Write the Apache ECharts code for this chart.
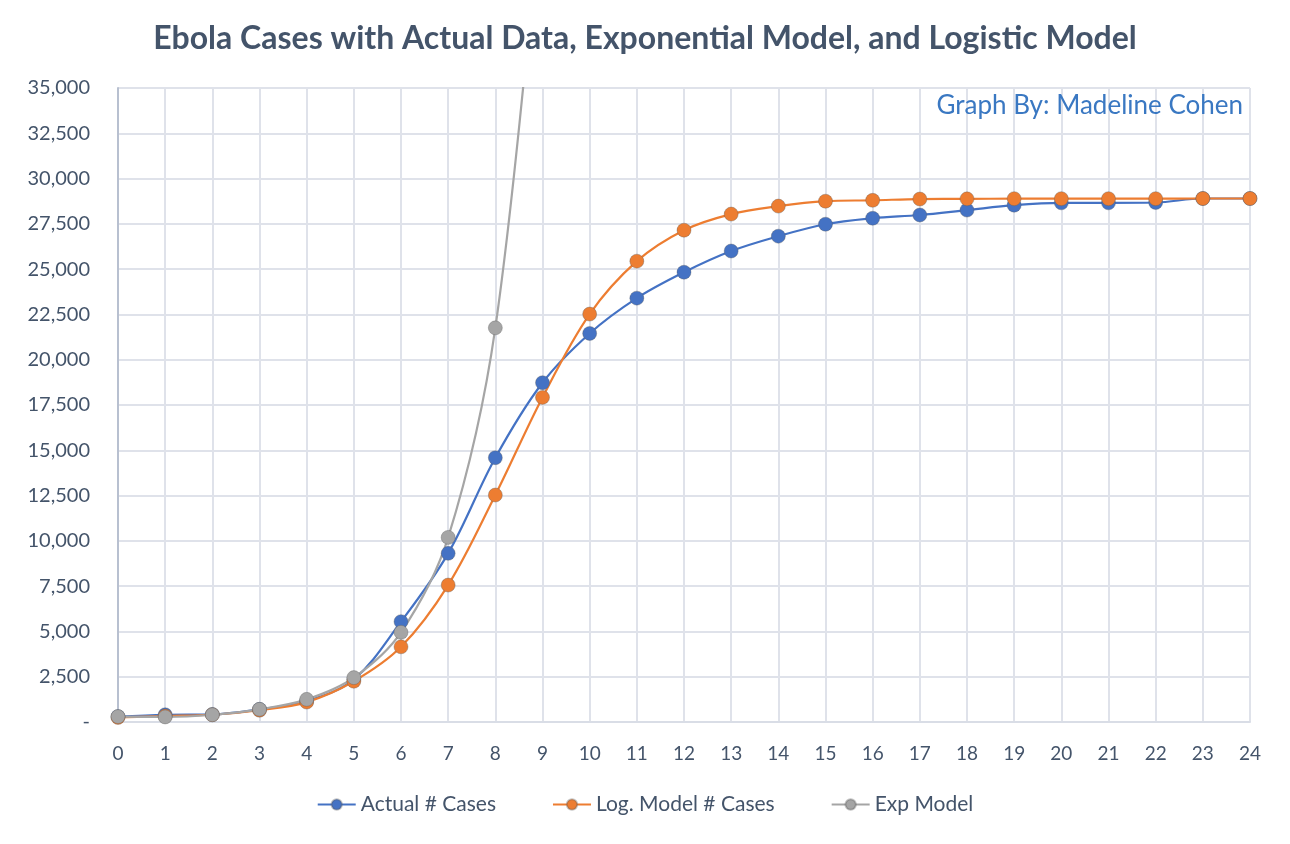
<!DOCTYPE html>
<html>
<head>
<meta charset="utf-8">
<script src="https://cdn.jsdelivr.net/npm/echarts@6/dist/echarts.min.js"></script>
<style>html,body{margin:0;padding:0;background:#fff}#c{width:1290px;height:844px}</style>
</head>
<body>
<div id="c"></div>
<script>
const weeks = [0,1,2,3,4,5,6,7,8,9,10,11,12,13,14,15,16,17,18,19,20,21,22,23,24];
const actualCases = [300,400,420,700,1150,2350,5540,9310,14590,18730,21450,23400,24830,26000,26820,27480,27810,27990,28260,28530,28660,28660,28680,28900,28900];
const logModelCases = [250,330,400,650,1100,2250,4150,7560,12530,17920,22520,25440,27150,28040,28480,28750,28800,28870,28880,28890,28890,28890,28890,28900,28900];
const expModel = [300,280,400,700,1250,2450,4950,10190,21760,46500];
const seriesNames = ['Actual # Cases','Log. Model # Cases','Exp Model'];
const colors = ['#4472c4','#ed7d31','#a5a5a5'];

function pairs(vals){ return vals.map((v,i)=>[weeks[i],v]); }
function fmt(v){ if(v===0) return '-'; return String(v).replace(/\B(?=(\d{3})+(?!\d))/g, ','); }

const chart = echarts.init(document.getElementById('c'), null, {renderer:'canvas'});
const font = 'Lato, "Open Sans", sans-serif';
function mk(name, vals, color){
  return {
    name, type:'line', data:pairs(vals), smooth:0.35, clip:true,
    symbol:'circle', symbolSize:14,
    lineStyle:{color, width:2.2},
    itemStyle:{color, borderColor:'rgba(90,90,90,0.35)', borderWidth:1},
    emphasis:{disabled:true}
  };
}
chart.setOption({
  animation:false,
  backgroundColor:'#fff',
  title:[{
    text:'Ebola Cases with Actual Data, Exponential Model, and Logistic Model',
    left:'center', top:18,
    textStyle:{fontFamily:font, fontSize:32, fontWeight:'bold', color:'#44546a'}
  },{
    text:'Graph By: Madeline Cohen',
    right:42, top:88,
    textStyle:{fontFamily:font, fontSize:26, fontWeight:'normal', color:'#3a78c2'}
  }],
  grid:{left:118, right:40, top:88, bottom:122},
  legend:{
    data:seriesNames, bottom:24, left:'center',
    itemWidth:38, itemHeight:13, itemGap:56,
    textStyle:{fontFamily:font, fontSize:21, color:'#44546a'}
  },
  xAxis:{
    type:'value', min:0, max:24, interval:1,
    axisLine:{show:true, lineStyle:{color:'#d9dde6', width:2}},
    axisTick:{show:false},
    splitLine:{show:true, lineStyle:{color:'#dfe2ea', width:2}},
    axisLabel:{fontFamily:font, fontSize:19, color:'#44546a', margin:22}
  },
  yAxis:{
    type:'value', min:0, max:35000, interval:2500,
    axisLine:{show:true, lineStyle:{color:'#b8c0d0', width:2}},
    axisTick:{show:false},
    splitLine:{show:true, lineStyle:{color:'#dfe2ea', width:2}},
    axisLabel:{fontFamily:font, fontSize:20, color:'#44546a', margin:28, formatter:fmt}
  },
  series:[
    mk(seriesNames[0], actualCases, colors[0]),
    mk(seriesNames[1], logModelCases, colors[1]),
    mk(seriesNames[2], expModel, colors[2])
  ]
});
</script>
</body>
</html>
